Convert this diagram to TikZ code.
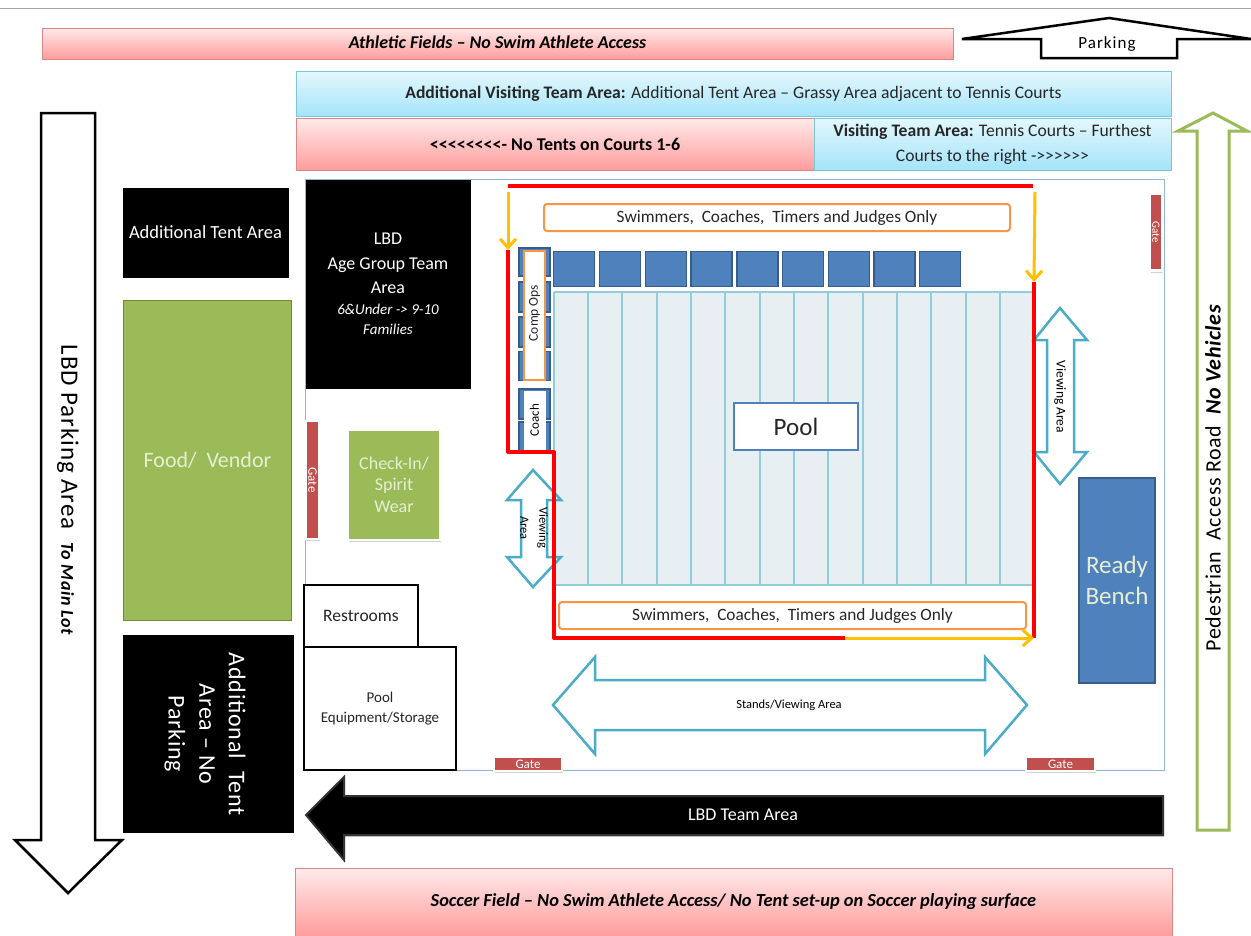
\documentclass[tikz,border=0pt]{standalone}
\usepackage{fontspec}
\setmainfont{Carlito}
\usepackage{xcolor}
\usepackage{tikz}
\usetikzlibrary{arrows.meta,shadows}
\definecolor{pinktop}{HTML}{FFEAEA}
\definecolor{pinkbot}{HTML}{FF9C9C}
\definecolor{pinkline}{HTML}{D98886}
\definecolor{skytop}{HTML}{E4F7FC}
\definecolor{skybot}{HTML}{A4E4FA}
\definecolor{skyline}{HTML}{7CC6DA}
\definecolor{blockblue}{HTML}{4F81BD}
\definecolor{blockline}{HTML}{385D8A}
\definecolor{leafgreen}{HTML}{9BBB59}
\definecolor{leafline}{HTML}{71893F}
\definecolor{paleleaf}{HTML}{E6EFD2}
\definecolor{gatered}{HTML}{C0504D}
\definecolor{laneblue}{HTML}{92CDDC}
\definecolor{poolfill}{HTML}{E8EFF3}
\definecolor{viewblue}{HTML}{4BACC6}
\definecolor{siteblue}{HTML}{95B3D7}
\definecolor{markorange}{HTML}{F79646}
\definecolor{markyellow}{HTML}{FFC000}
\definecolor{textgrey}{HTML}{262626}
\newcommand{\fs}[1]{\fontsize{#1}{#1}\selectfont}
\tikzset{
	pinkbar/.style={draw=pinkline,top color=pinktop,bottom color=pinkbot,inner sep=0pt,align=center,text=black},
	skybar/.style={draw=skyline,top color=skytop,bottom color=skybot,inner sep=0pt,align=center,text=textgrey},
	blackbox/.style={draw=black,fill=black,text=white,inner sep=0pt,align=center},
	greenbox/.style={fill=leafgreen,text=paleleaf,inner sep=0pt,align=center},
	softshadow/.style={drop shadow={opacity=0.35,shadow xshift=1pt,shadow yshift=-2pt}},
	gatebar/.style={draw=white,line width=2.5pt,fill=gatered,text=white,inner sep=0pt,softshadow},
	whitebox/.style={draw=black,line width=2pt,fill=white,text=textgrey,inner sep=0pt,align=center},
	bluesquare/.style={draw=blockline,line width=1.8pt,fill=blockblue,inner sep=0pt},
	laneline/.style={draw=laneblue,line width=1.6pt},
	orangebox/.style={draw=markorange,line width=2pt,fill=white,rounded corners=3pt,inner sep=0pt,text=textgrey},
	viewarrow/.style={draw=viewblue,line width=2.5pt,fill=white,line join=miter},
	redroute/.style={draw=red,line width=4pt,line join=round},
	yellowroute/.style={draw=markyellow,line width=3pt,-{Straight Barb[length=9pt,width=16pt]}},
}
\begin{document}
\begin{tikzpicture}[x=1pt,y=-1pt]
		\useasboundingbox[fill=white] (0,0) rectangle (1251,935);
		\draw[gray!70] (0,8) -- (1251,8);
		% banners along the top
		\node[pinkbar,minimum width=911pt,minimum height=31pt] (athletic) at (497.5,43.5) {\raisebox{2pt}{\fs{18}\bfseries\itshape Athletic Fields -- No Swim Athlete Access}};
		\draw[black,line width=2.5pt,fill=white] (962,39)--(1109,18)--(1251,39)--(1177,39)--(1177,58)--(1041,58)--(1041,39)--cycle;
		\node (parking) at (1107,44) {\fs{17}\addfontfeatures{LetterSpace=6}Parking};
		\node[skybar,minimum width=875pt,minimum height=45pt] (addvisit) at (733.5,94) {\fs{17.6}\textbf{Additional Visiting Team Area:} Additional Tent Area -- Grassy Area adjacent to Tennis Courts};
		\node[pinkbar,minimum width=518pt,minimum height=52pt] (notents) at (555,144) {\fs{18}\textbf{<{}<{}<{}<{}<{}<{}<{}<- No Tents on Courts 1-6}};
		\node[skybar,minimum width=357pt,minimum height=52pt] (visit) at (992.5,144) {\fs{17.6}\textbf{Visiting Team Area:} Tennis Courts -- Furthest\\[9pt]\fs{17.6}Courts to the right ->{}>{}>{}>{}>{}>};
		% site outline
		\draw[siteblue,line width=1pt] (305,179) rectangle (1164,770);
		% left side
		\node[blackbox,minimum width=165pt,minimum height=89pt] (tentone) at (205.5,232.5) {\fs{18.5}Additional Tent Area};
		\node[blackbox,minimum width=164pt,minimum height=208pt] (agegroup) at (388,284) {\fs{18}LBD\\[13pt]\fs{18}Age Group Team\\[8pt]\fs{18}Area\\[9pt]\fs{15}\itshape 6\&Under -> 9-10\\[8pt]\fs{15}\itshape Families};
		\node[greenbox,draw=leafline,line width=1.5pt,minimum width=168pt,minimum height=320pt] (food) at (207.5,460.5) {\raisebox{2pt}{\fs{22}Food/\ \ Vendor}};
		\node[greenbox,draw=white,line width=2.5pt,softshadow,minimum width=92pt,minimum height=110pt] (checkin) at (394,485) {\fs{18}Check-In/\\[7pt]\fs{18}Spirit\\[7pt]\fs{18}Wear};
		\node[gatebar,minimum width=118pt,minimum height=13pt,rotate=-90] (gateleft) at (312.5,480) {\fs{13}Gate};
		\node[whitebox,minimum width=114pt,minimum height=62pt] (restrooms) at (361,616) {\fs{17.5}Restrooms};
		\node[whitebox,minimum width=152pt,minimum height=123pt] (equipment) at (380,708.5) {\fs{15}Pool\\[8pt]\fs{15}Equipment/Storage};
		\node[blackbox,minimum width=170pt,minimum height=197pt] (tenttwo) at (208,733.5) {};
		\node[text=white,align=center,rotate=-90] (tenttext) at (205,734) {\fs{24}\addfontfeatures{LetterSpace=3}Additional\ \ Tent\\[13pt]\fs{24}\addfontfeatures{LetterSpace=3}Area -- No\\[13pt]\fs{24}\addfontfeatures{LetterSpace=3}Parking};
		% big road arrows
		\draw[black,line width=2.5pt,fill=white] (41,113)--(95,113)--(95,840)--(122,840)--(68,893)--(15,840)--(41,840)--cycle;
		\node[rotate=-90] (lbdparking) at (68,490) {\fs{25}\addfontfeatures{LetterSpace=3.5}LBD Parking Area\ \ \fs{18}\bfseries\itshape To Main Lot};
		\draw[leafgreen,line width=3pt,fill=white] (1213,113)--(1247,131)--(1229,131)--(1229,830)--(1197,830)--(1197,131)--(1178,131)--cycle;
		\node[rotate=90] (pedestrian) at (1213,478) {\fs{22}\addfontfeatures{LetterSpace=2.5}Pedestrian\ \ Access Road\ \ \textbf{\itshape No Vehicles}};
		\draw[black!80,line width=2pt,fill=black,softshadow] (306,815)--(344,777)--(344,796)--(1163,796)--(1163,835)--(344,835)--(344,860)--cycle;
		\node[text=white] (lbdteam) at (743,815) {\fs{18}LBD Team Area};
		\node[pinkbar,minimum width=877pt,minimum height=68pt] (soccer) at (733.5,902) {\fs{18.4}\bfseries\itshape Soccer Field -- No Swim Athlete Access/ No Tent set-up on Soccer playing surface};
		% pool
		\fill[poolfill] (554,292) rectangle (1033,585);
		\draw[laneline] (554,292) -- (1033,292);
		\draw[laneline] (554,585) -- (1033,585);
		\draw[laneline] (554,292) -- (554,585);
		\draw[laneline] (588,292) -- (588,585);
		\draw[laneline] (622,292) -- (622,585);
		\draw[laneline] (657,292) -- (657,585);
		\draw[laneline] (691,292) -- (691,585);
		\draw[laneline] (725,292) -- (725,585);
		\draw[laneline] (760,292) -- (760,585);
		\draw[laneline] (794,292) -- (794,585);
		\draw[laneline] (828,292) -- (828,585);
		\draw[laneline] (863,292) -- (863,585);
		\draw[laneline] (897,292) -- (897,585);
		\draw[laneline] (931,292) -- (931,585);
		\draw[laneline] (966,292) -- (966,585);
		\draw[laneline] (1000,292) -- (1000,585);
		\node[draw=blockblue,line width=2pt,fill=white,inner sep=0pt,minimum width=124pt,minimum height=47pt,text=textgrey] (pool) at (796,426.5) {\fs{25}Pool};
		% timing blocks
		\node[bluesquare,minimum width=41pt,minimum height=35pt] (blockone) at (574,269) {};
		\node[bluesquare,minimum width=41pt,minimum height=35pt] (blocktwo) at (620,269) {};
		\node[bluesquare,minimum width=41pt,minimum height=35pt] (blockthree) at (666,269) {};
		\node[bluesquare,minimum width=41pt,minimum height=35pt] (blockfour) at (711.5,269) {};
		\node[bluesquare,minimum width=41pt,minimum height=35pt] (blockfive) at (757.5,269) {};
		\node[bluesquare,minimum width=41pt,minimum height=35pt] (blocksix) at (803,269) {};
		\node[bluesquare,minimum width=41pt,minimum height=35pt] (blockseven) at (849,269) {};
		\node[bluesquare,minimum width=41pt,minimum height=35pt] (blockeight) at (894.5,269) {};
		\node[bluesquare,minimum width=41pt,minimum height=35pt] (blocknine) at (940,269) {};
		% desks on the left of the pool
		\node[bluesquare,minimum width=31pt,minimum height=28pt] (deskone) at (534.5,262) {};
		\node[bluesquare,minimum width=31pt,minimum height=30pt] (desktwo) at (534.5,297) {};
		\node[bluesquare,minimum width=31pt,minimum height=30pt] (deskthree) at (534.5,332) {};
		\node[bluesquare,minimum width=31pt,minimum height=29pt] (deskfour) at (534.5,366) {};
		\node[bluesquare,minimum width=31pt,minimum height=30pt] (deskfive) at (534.5,404) {};
		\node[bluesquare,minimum width=31pt,minimum height=30pt] (desksix) at (534.5,437) {};
		\node[draw=markorange,line width=2pt,fill=white,inner sep=0pt,minimum width=129pt,minimum height=21pt,rotate=-90,text=textgrey] (compops) at (534.5,315.5) {};
		\node[rotate=90,text=textgrey] (compopstext) at (534.5,313) {\fs{13.5}Comp Ops};
		\node[fill=white,inner sep=0pt,minimum width=59pt,minimum height=22pt,rotate=90] (coach) at (534.5,420) {\fs{13}Coach};
		% swimmers only strips
		\node[orangebox,minimum width=466pt,minimum height=27pt] (swimtop) at (777,217.5) {\fs{17.3}Swimmers,\ \ Coaches,\ \ Timers and Judges Only};
		\node[orangebox,minimum width=467pt,minimum height=27pt] (swimbot) at (792.5,615.5) {\fs{17.3}Swimmers,\ \ Coaches,\ \ Timers and Judges Only};
		% viewing arrows
		\draw[viewarrow] (1060,308)--(1087,340)--(1074,340)--(1074,452)--(1087,452)--(1060,484)--(1034,452)--(1047,452)--(1047,340)--(1034,340)--cycle;
		\node[rotate=-90] (viewright) at (1060,397) {\fs{13.5}Viewing Area};
		\draw[viewarrow] (533,470)--(561,500)--(547,500)--(547,557)--(561,557)--(533,587)--(507,557)--(521,557)--(521,500)--(507,500)--cycle;
		\node[rotate=-90,align=center] (viewleft) at (534,528) {\fs{12.5}Viewing\\[7pt]\fs{12.5}Area};
		\draw[viewarrow] (553,705)--(595,657)--(595,680)--(985,680)--(985,657)--(1027,705)--(985,754)--(985,730)--(595,730)--(595,754)--cycle;
		\node (stands) at (789,705) {\fs{12.5}Stands/Viewing Area};
		% gates
		\node[gatebar,minimum width=68pt,minimum height=14pt] (gatesouth) at (528,764) {\fs{13}Gate};
		\node[gatebar,minimum width=69pt,minimum height=14pt] (gateeast) at (1060.5,764) {\fs{13}Gate};
		\node[gatebar,minimum width=77pt,minimum height=12pt,rotate=-90] (gatenorth) at (1156,232) {\fs{11}Gate};
		\node[draw=blockline,line width=1.5pt,fill=blockblue,text=paleleaf,inner sep=0pt,align=center,minimum width=76pt,minimum height=205pt] (ready) at (1117,580.5) {\fs{25}Ready\\[8pt]\fs{25}Bench};
		% athlete route
		\coordinate (routea) at (508,186);
		\coordinate (routeb) at (1033,186);
		\coordinate (routec) at (508,250);
		\coordinate (routed) at (508,452);
		\coordinate (routee) at (554,452);
		\coordinate (routef) at (554,638);
		\coordinate (routeg) at (845,638);
		\coordinate (routeh) at (1034,638);
		\coordinate (routei) at (1034,282);
		\coordinate (routej) at (508,192);
		\coordinate (routek) at (1035,192);
		\draw[redroute] (routea) -- (routeb);
		\draw[redroute] (routec) -- (routed) -- (routee) -- (routef) -- (routeg);
		\draw[redroute] (routei) -- (routeh);
		\draw[yellowroute] (routej) -- (routec);
		\draw[yellowroute] (routek) -- (routei);
		\draw[yellowroute] (routeg) -- (routeh);
	\end{tikzpicture}
\end{document}
